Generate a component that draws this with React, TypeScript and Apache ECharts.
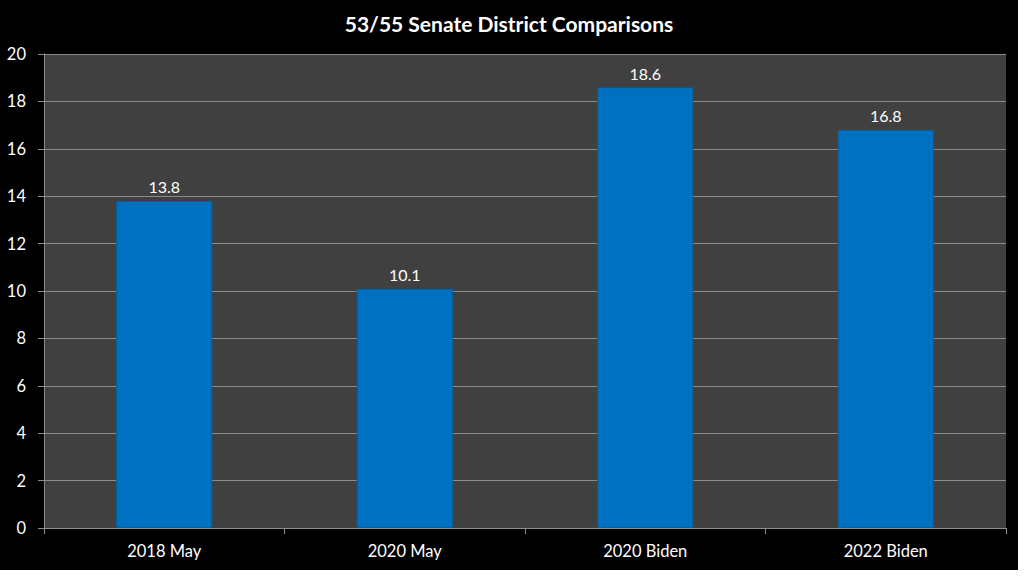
import React, { useEffect, useRef } from "react";
import * as echarts from "echarts";

const categories = ["2018 May", "2020 May", "2020 Biden", "2022 Biden"];
const values = [13.8, 10.1, 18.6, 16.8];
const titleText = "53/55 Senate District Comparisons";

export default function App() {
  const ref = useRef<HTMLDivElement>(null);
  useEffect(() => {
    document.body.style.margin = "0";
    const chart = echarts.init(ref.current!, null, { renderer: "svg" });
    chart.setOption({
      animation: false,
      backgroundColor: "#000000",
      textStyle: { fontFamily: "Lato, 'Open Sans', sans-serif" },
      title: {
        text: titleText,
        left: "center",
        top: 8,
        textStyle: { color: "#ffffff", fontSize: 21, fontWeight: "bold", fontFamily: "Lato, 'Open Sans', sans-serif" },
      },
      grid: {
        left: 44,
        right: 12,
        top: 54,
        bottom: 42,
        show: true,
        backgroundColor: "#404040",
        borderWidth: 0,
      },
      xAxis: {
        type: "category",
        data: categories,
        axisLine: { show: true, lineStyle: { color: "#8c8c8c", width: 1 } },
        axisTick: { show: true, length: 6, lineStyle: { color: "#8c8c8c" } },
        axisLabel: { color: "#ffffff", fontSize: 16.5, margin: 14 },
      },
      yAxis: {
        type: "value",
        min: 0,
        max: 20,
        interval: 2,
        axisLine: { show: true, lineStyle: { color: "#8c8c8c", width: 1 } },
        axisTick: { show: true, length: 6, lineStyle: { color: "#8c8c8c" } },
        axisLabel: { color: "#ffffff", fontSize: 16.5, margin: 18 },
        splitLine: { show: true, lineStyle: { color: "#8c8c8c", width: 1 } },
      },
      series: [
        {
          type: "bar",
          data: values,
          barWidth: "40%",
          itemStyle: { color: "#0070C0", borderColor: "#005f9e", borderWidth: 1 },
          label: {
            show: true,
            position: "top",
            distance: 6,
            color: "#ffffff",
            fontSize: 16,
            formatter: (p: any) => p.value.toFixed(1),
          },
        },
      ],
    });
    return () => chart.dispose();
  }, []);
  return (
    <div style={{ width: 1024, height: 576, background: "#ffffff", position: "relative" }}>
      <div ref={ref} style={{ width: 1018, height: 570, position: "absolute", left: 0, top: 0 }} />
    </div>
  );
}
